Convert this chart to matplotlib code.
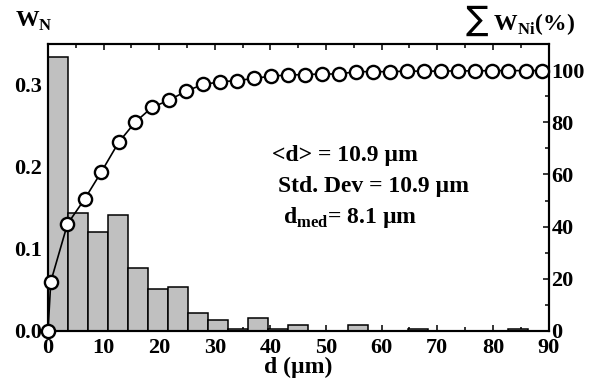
import matplotlib
matplotlib.use("Agg")
import matplotlib.pyplot as plt
import numpy as np
from matplotlib.ticker import MultipleLocator, FormatStrFormatter

# histogram of number fraction, 25 bins of 3.6 um between 0 and 90 um
bin_left = [0.0, 3.6, 7.2, 10.8, 14.4, 18.0, 21.6, 25.2, 28.8, 32.4,
            36.0, 39.6, 43.2, 46.8, 50.4, 54.0, 57.6, 61.2, 64.8, 68.4,
            72.0, 75.6, 79.2, 82.8, 86.4]
w_n = [0.334, 0.144, 0.121, 0.141, 0.077, 0.051, 0.054, 0.022, 0.013, 0.003,
       0.016, 0.002, 0.007, 0.0, 0.0, 0.007, 0.0, 0.0, 0.003, 0.0,
       0.0, 0.0, 0.0, 0.003, 0.0]
bin_width = 3.6

# cumulative fraction (%)
d_cum = [0.0, 0.5, 3.5, 6.6, 9.6, 12.7, 15.7, 18.7, 21.8, 24.9, 27.9,
         31.0, 34.0, 37.1, 40.1, 43.2, 46.2, 49.3, 52.3, 55.4, 58.4,
         61.5, 64.5, 67.6, 70.6, 73.7, 76.7, 79.8, 82.8, 85.9, 88.8]
w_cum = [0.0, 18.9, 41.0, 50.6, 61.0, 72.3, 80.1, 85.7, 88.5, 92.0, 94.5,
         95.5, 96.0, 96.8, 97.7, 98.1, 98.3, 98.5, 98.5, 99.4, 99.4,
         99.4, 99.6, 99.6, 99.6, 99.7, 99.7, 99.8, 99.8, 99.8, 99.8]

serif = ["Liberation Serif", "DejaVu Serif"]
plt.rcParams["font.family"] = serif
plt.rcParams["font.weight"] = "bold"

fig = plt.figure(figsize=(6.02, 3.88), dpi=100)
ax = fig.add_axes([48 / 602, 1 - 331 / 388, 500.5 / 602, 287 / 388])

ax.bar(bin_left, w_n, width=bin_width, align="edge", color="#c0c0c0",
       edgecolor="black", linewidth=1.1, zorder=2)
ax.set_xlim(0, 90)
ax.set_ylim(0, 0.35)
ax.xaxis.set_major_locator(MultipleLocator(10))
ax.xaxis.set_minor_locator(MultipleLocator(5))
ax.yaxis.set_major_locator(MultipleLocator(0.1))
ax.yaxis.set_minor_locator(MultipleLocator(0.05))
ax.yaxis.set_major_formatter(FormatStrFormatter("%.1f"))
ax.tick_params(axis="both", which="both", direction="in", width=1.1)
ax.tick_params(axis="x", which="both", top=True)
ax.tick_params(axis="both", which="major", length=4.5, labelsize=16)
ax.tick_params(axis="both", which="minor", length=3)
ax.tick_params(axis="x", pad=5)
ax.tick_params(axis="y", pad=4)
for s in ax.spines.values():
    s.set_linewidth(1.5)
ax.set_xlabel("d (µm)", fontsize=17, fontweight="bold", labelpad=-1)

ax2 = ax.twinx()
ax2.plot(d_cum, w_cum, "-o", color="black", linewidth=1.2,
         markersize=9.5, markerfacecolor="white", markeredgecolor="black",
         markeredgewidth=1.7, clip_on=False, zorder=3)
ax2.set_ylim(0, 110)
ax2.yaxis.set_major_locator(MultipleLocator(20))
ax2.yaxis.set_minor_locator(MultipleLocator(10))
ax2.tick_params(axis="y", which="both", direction="in", width=1.1, pad=2)
ax2.tick_params(axis="y", which="major", length=4.5, labelsize=16)
ax2.tick_params(axis="y", which="minor", length=3)
for s in ax2.spines.values():
    s.set_linewidth(1.5)

# axis titles above the plot
fig.text(15 / 602, 1 - 26.7 / 388, r"W$_\mathregular{N}$", fontsize=17,
         fontweight="bold", va="baseline", ha="left")
fig.text(465 / 602, 1 - 30 / 388, r"∑ W$_\mathregular{Ni}$(%)", fontsize=17,
         fontweight="bold", va="baseline", ha="left")

# statistics
fig.text(271.7 / 602, 1 - 160.7 / 388, "<d> = 10.9 µm", fontsize=17,
         fontweight="bold", va="baseline", ha="left")
fig.text(278.3 / 602, 1 - 191.7 / 388, "Std. Dev = 10.9 µm", fontsize=17,
         fontweight="bold", va="baseline", ha="left")
fig.text(283.3 / 602, 1 - 223.3 / 388, r"d$_\mathregular{med}$= 8.1 µm",
         fontsize=17, fontweight="bold", va="baseline", ha="left")

fig.savefig("out.png", dpi=100)
